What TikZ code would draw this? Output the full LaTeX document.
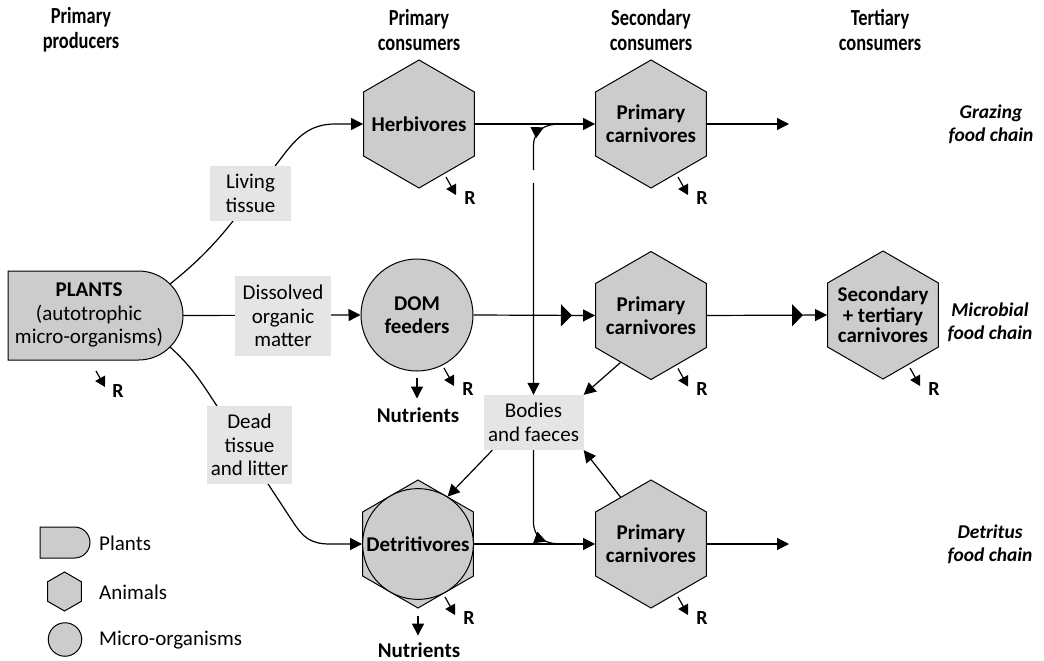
\documentclass[tikz,border=0pt]{standalone}
\usepackage{fontspec}
\setmainfont{Carlito}
\newfontfamily\condfont[FakeStretch=0.8]{Carlito}
\usetikzlibrary{arrows.meta,shapes.geometric,decorations.markings,calc}
\definecolor{shapegray}{gray}{0.8}
\definecolor{labelgray}{gray}{0.9}
\begin{document}
\begin{tikzpicture}[x=1pt,y=-1pt,
  txt/.style={font=\fontsize{21}{23.5}\selectfont, align=center, inner sep=0pt},
  hexa/.style={regular polygon, regular polygon sides=6, shape border rotate=30,
    minimum size=128pt, inner sep=0pt, draw, line width=1pt, fill=shapegray},
  hextext/.style={align=center, inner sep=0pt, font=\bfseries\fontsize{21}{23}\selectfont},
  micro/.style={circle, minimum size=112pt, inner sep=0pt, draw, line width=1pt,
    fill=shapegray, align=center, font=\bfseries\fontsize{21}{23.5}\selectfont},
  flow/.style={line width=1.2pt, -{Triangle[length=12pt,width=12pt]}},
  link/.style={line width=1.2pt},
  tissue/.style={fill=labelgray, align=center, inner sep=0pt,
    font=\fontsize{21}{23.5}\selectfont},
  resp/.style={line width=1.2pt, -{Triangle[length=10pt,width=11pt]}},
  rlab/.style={font=\bfseries\fontsize{20}{20}\selectfont, inner sep=0pt},
  head/.style={font=\condfont\bfseries\fontsize{23}{25}\selectfont, align=center, inner sep=0pt},
  chain/.style={font=\bfseries\itshape\fontsize{19.5}{23}\selectfont, align=center, inner sep=0pt},
  nut/.style={font=\bfseries\fontsize{21}{23}\selectfont, inner sep=0pt},
  legtxt/.style={font=\fontsize{21}{23}\selectfont, inner sep=0pt, anchor=west},
  bigtip/.style={postaction={decorate}, decoration={markings,
    mark=at position #1 with {\arrow{Triangle[length=11pt,width=22pt]}}}},
  tipback/.style={postaction={decorate}, decoration={markings,
    mark=at position #1 with {\arrowreversed{Triangle[length=12pt,width=12pt]}}}},
  tipfwd/.style={postaction={decorate}, decoration={markings,
    mark=at position #1 with {\arrow{Triangle[length=12pt,width=12pt]}}}},
]
\useasboundingbox (0,0) rectangle (1044,661);

% column headings
\node[head] (hpp) at (81,30) {Primary\\producers};
\node[head] (hpc) at (419,30) {Primary\\consumers};
\node[head] (hsc) at (651,30) {Secondary\\consumers};
\node[head] (htc) at (880,30) {Tertiary\\consumers};

% plants
\draw[line width=1pt, fill=shapegray] (8,271) -- (138.5,271)
  .. controls (163.08,271) and (183,290.92) .. (183,315.5)
  .. controls (183,340.08) and (163.08,360) .. (138.5,360) -- (8,360) -- cycle;
\node[txt] (plants) at (89,315) {\textbf{PLANTS}\\(autotrophic\\micro-organisms)};
\coordinate (pl1) at (170,284);
\coordinate (pl2) at (183,315.5);
\coordinate (pl3) at (170,347);

% consumers
\node[hexa] (herb) at (419,124) {};
\node[hextext] (herbt) at (herb) {Herbivores};
\node[hexa] (carnA) at (651,124) {};
\node[hextext] (carnAt) at (carnA) {Primary\\carnivores};
\node[micro] (dom) at (417,315) {DOM\\feeders};
\node[hexa] (carnB) at (651,315.5) {};
\node[hextext] (carnBt) at (carnB) {Primary\\carnivores};
\node[hexa] (carnC) at (883,315) {};
\node[hextext, font=\bfseries\fontsize{21}{20.5}\selectfont] (carnCt) at (carnC) {Secondary\\+ tertiary\\carnivores};
\node[hexa] (detrhex) at (418,544) {};
\node[micro, minimum size=110.8pt] (detr) at (418,544) {Detritivores};
\node[hexa] (carnD) at (651,544) {};
\node[hextext] (carnDt) at (carnD) {Primary\\carnivores};
\node[tissue, minimum width=100pt, minimum height=55pt] (bodies) at (533.5,422.5) {Bodies\\and faeces};

\coordinate (jA) at (560,124);
\coordinate (jD) at (562,544);
\coordinate (outA) at (789,124);
\coordinate (outD) at (789,544);

% flows from the plants
\draw[flow] (pl1) .. controls (195,264) and (215,245) .. (240,212) -- (282,157)
  .. controls (297,137) and (310,124) .. (335,124) -- (herb.west);
\draw[flow] (pl2) -- (dom.west);
\draw[flow] (pl3) .. controls (190,365) and (200,380) .. (213,400) -- (293,522)
  .. controls (303,537) and (310,544) .. (330,544) -- (detr.west);

% food chains
\draw[flow] (herb.east) -- (carnA.west);
\draw[flow] (carnA.east) -- (outA);
\draw[flow, bigtip=0.81] (dom.east) -- (carnB.west);
\draw[flow, bigtip=0.8] (carnB.east) -- (carnC.west);
\draw[flow] (detr.east) -- (carnD.west);
\draw[flow] (carnD.east) -- (outD);

% bodies and faeces
\draw[flow, tipback=0.06] (jA) .. controls (545,124) and (533.5,130) .. (533.5,146)
  -- (533.5,170) (533.5,183) -- (bodies.north);
\draw[link, tipfwd=0.86] (bodies.south) -- (533.5,522) .. controls (533.5,538) and (545,544) .. (jD);
\draw[flow] (carnB.237) -- (bodies.north east);
\draw[flow] (carnD.123) -- (bodies.south east);
\draw[flow] ($(bodies.south west)+(9,0)$) -- (detr.58);

% nutrients
\node[nut] (nutA) at (418,415) {Nutrients};
\node[nut] (nutB) at (419,650) {Nutrients};
\draw[flow] ($(dom.south)+(0,6)$) -- ($(dom.south)+(0,27)$);
\draw[flow] ($(detrhex.south)+(0,7)$) -- ($(detrhex.south)+(0,27)$);

% respiration
\foreach \n in {herb,carnA,dom,carnB,carnC,detrhex,carnD}{
  \draw[resp] ($(\n)+(27,53)$) -- ($(\n)+(37,71)$);
  \node[rlab] (r-\n) at ($(\n)+(51,74)$) {R};
}
\draw[resp] (96,371) -- (105,387);
\node[rlab] (r-pl) at (118,391) {R};

% transfer labels
\node[tissue, minimum width=81pt, minimum height=55pt] (living) at (250.5,193.5) {Living\\tissue};
\node[tissue, minimum width=96pt, minimum height=80pt] (dissolved) at (283,316) {Dissolved\\organic\\matter};
\node[tissue, minimum width=85pt, minimum height=78pt] (dead) at (249.5,445) {Dead\\tissue\\and litter};

% chain names
\node[chain] (gz) at (991,124.5) {Grazing\\food chain};
\node[chain] (mb) at (990,322) {Microbial\\food chain};
\node[chain] (dt) at (990,544.5) {Detritus\\food chain};

% legend
\draw[line width=1pt, fill=shapegray] (40,527) -- (74.5,527)
  .. controls (83.06,527) and (90,533.94) .. (90,542.5)
  .. controls (90,551.06) and (83.06,558) .. (74.5,558) -- (40,558) -- cycle;
\node[hexa, minimum size=39pt] (leghex) at (64.5,591.5) {};
\node[micro, minimum size=33.5pt] (legcirc) at (65,639.5) {};
\node[legtxt] (legpl) at (99,543) {Plants};
\node[legtxt] (legan) at (99,592) {Animals};
\node[legtxt] (legmo) at (99,640) {Micro-organisms};
\end{tikzpicture}
\end{document}
